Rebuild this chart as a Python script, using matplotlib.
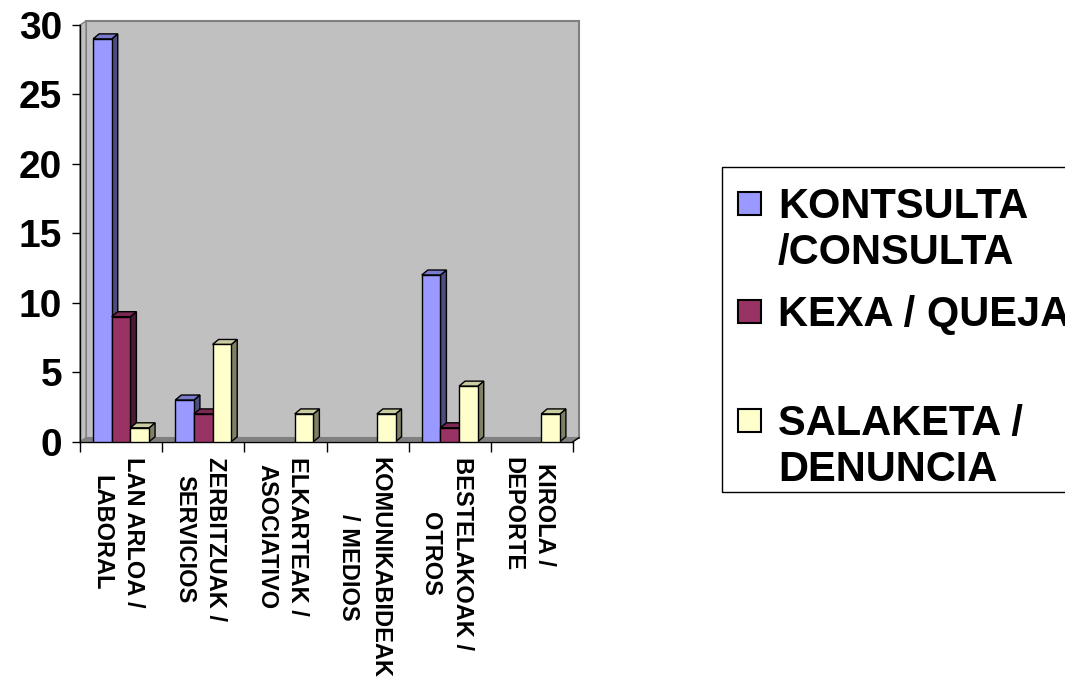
import matplotlib.pyplot as plt
import numpy as np
from matplotlib.colors import to_rgb
from matplotlib.patches import Polygon, Rectangle


categorias = ["LAN ARLOA /\nLABORAL", "ZERBITZUAK /\nSERVICIOS", "ELKARTEAK /\nASOCIATIVO",
              "KOMUNIKABIDEAK\n/ MEDIOS", "BESTELAKOAK /\nOTROS", "KIROLA /\nDEPORTE"]
kontsulta = [29, 3, 0, 0, 12, 0]
kexa = [9, 2, 0, 0, 1, 0]
salaketa = [1, 7, 2, 2, 4, 2]
series = ["KONTSULTA\n/CONSULTA", "KEXA / QUEJA", "SALAKETA /\nDENUNCIA"]
colores = ["#9999FF", "#993366", "#FFFFCC"]
y_ticks = [0, 5, 10, 15, 20, 25, 30]

FUENTE = "Liberation Sans"
W, H = 1065, 684


def sombra(color, f):
    r, g, b = to_rgb(color)
    return (r * f, g * f, b * f)


fig = plt.figure(figsize=(W / 100, H / 100), dpi=100)
# axes en pixels : x 80 -> 573, y (depuis le haut) 25 -> 441.7
ax = fig.add_axes([80 / W, (H - 441.7) / H, 493 / W, 416.7 / H])
ax.set_xlim(0, len(categorias))
ax.set_ylim(0, 30)

px_x = 493 / len(categorias)   # pixels par catégorie
px_y = 416.7 / 30              # pixels par unité

# profondeur du mur et des barres (pixels -> données)
wdx, wdy = 6 / px_x, 4 / px_y
bdx, bdy = 6 / px_x, 5 / px_y
n = len(categorias)

# mur du fond, mur gauche, sol
ax.add_patch(Polygon([(wdx, wdy), (n + wdx, wdy), (n + wdx, 30 + wdy), (wdx, 30 + wdy)],
                     fc="#C0C0C0", ec="#808080", lw=1.5, zorder=0.5, clip_on=False))
ax.add_patch(Polygon([(0, 0), (wdx, wdy), (wdx, 30 + wdy), (0, 30)],
                     fc="#C0C0C0", ec="#808080", lw=1, zorder=0.6, clip_on=False))
ax.add_patch(Polygon([(0, 0), (n, 0), (n + wdx, wdy), (wdx, wdy)],
                     fc="#808080", ec="#808080", lw=0.5, zorder=0.7, clip_on=False))
ax.plot([n, n + wdx], [0, wdy], color="black", lw=1, zorder=0.8, clip_on=False)

# barres 3D
w = 0.227
valeurs = [kontsulta, kexa, salaketa]
z = 3
for i in range(n):
    for j, vals in enumerate(valeurs):
        v = vals[i]
        if v == 0:
            continue
        c = colores[j]
        x0 = i + 0.5 - 1.5 * w + j * w
        x1 = x0 + w
        cote = [(x1, 0), (x1 + bdx, bdy), (x1 + bdx, v + bdy), (x1, v)]
        dessus = [(x0, v), (x1, v), (x1 + bdx, v + bdy), (x0 + bdx, v + bdy)]
        ax.add_patch(Polygon(cote, fc=sombra(c, 0.5), ec="black", lw=1, zorder=z, clip_on=False))
        ax.add_patch(Polygon(dessus, fc=sombra(c, 0.8), ec="black", lw=1, zorder=z, clip_on=False))
        ax.bar(x0, v, width=w, align="edge", color=c, edgecolor="black", lw=1, zorder=z + 0.001)
        z += 0.01

# axes
for s in ["top", "right"]:
    ax.spines[s].set_visible(False)
for s in ["left", "bottom"]:
    ax.spines[s].set_linewidth(1)
    ax.spines[s].set_zorder(2.5)

ax.set_yticks(y_ticks)
ax.set_yticklabels([str(t) for t in y_ticks], fontsize=28, fontweight="bold", family=FUENTE)
ax.tick_params(axis="y", length=5.8, width=1, pad=7)

ax.set_xticks(np.arange(n + 1))
ax.set_xticklabels([])
ax.set_xticks(np.arange(n) + 0.46, minor=True)
ax.set_xticklabels(categorias, minor=True, rotation=-90, fontsize=17, fontweight="bold",
                   family=FUENTE, ha="center", va="top", multialignment="center",
                   linespacing=1.45)
ax.tick_params(axis="x", which="major", length=7.2, width=1)
ax.tick_params(axis="x", which="minor", length=0, pad=11)

# légende
fig.patches.append(Rectangle((722 / W, (H - 492) / H), 360 / W, 325 / H, fill=True,
                             fc="white", ec="black", lw=1, transform=fig.transFigure,
                             figure=fig))
for k, (nom, c) in enumerate(zip(series, colores)):
    yc = 203 + k * 108.5
    fig.patches.append(Rectangle(((749 - 11.5) / W, (H - yc - 11.5) / H), 23 / W, 23 / H,
                                 fc=c, ec="black", lw=1.5, transform=fig.transFigure,
                                 figure=fig))
    fig.text(778 / W, (H - yc + 16) / H, nom, fontsize=30, fontweight="bold",
             family=FUENTE, ha="left", va="top", linespacing=1.2)

fig.savefig("out.png", dpi=100)
